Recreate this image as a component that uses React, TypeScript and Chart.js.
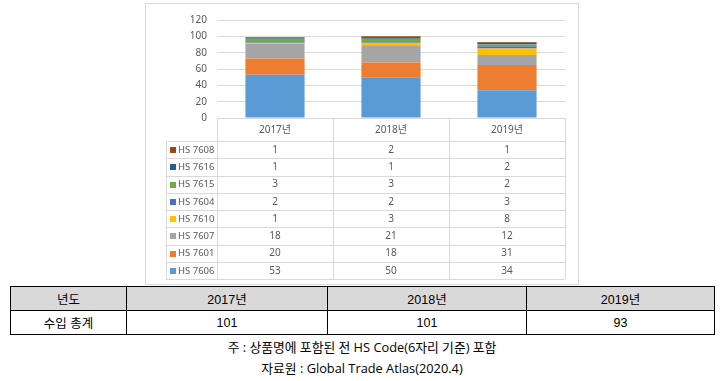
import React, { useEffect, useRef } from "react";
import { Chart, registerables } from "chart.js";

Chart.register(...registerables);

// ---- data ----
const years = ["2017년", "2018년", "2019년"];
const seriesNames = ["HS 7606", "HS 7601", "HS 7607", "HS 7610", "HS 7604", "HS 7615", "HS 7616", "HS 7608"];
const hs7606 = [53, 50, 34];
const hs7601 = [20, 18, 31];
const hs7607 = [18, 21, 12];
const hs7610 = [1, 3, 8];
const hs7604 = [2, 2, 3];
const hs7615 = [3, 3, 2];
const hs7616 = [1, 1, 2];
const hs7608 = [1, 2, 1];
const seriesValues = [hs7606, hs7601, hs7607, hs7610, hs7604, hs7615, hs7616, hs7608];
const seriesColors = ["#5B9BD5", "#ED7D31", "#A5A5A5", "#FFC000", "#4472C4", "#70AD47", "#255E91", "#9E480E"];
const yMin = 0;
const yMax = 120;
const yStep = 20;

const summaryHeader = ["년도", "2017년", "2018년", "2019년"];
const summaryRowLabel = "수입 총계";
const summaryTotals = ["101", "101", "93"];
const noteLine = "주 : 상품명에 포함된 전 HS Code(6자리 기준) 포함";
const sourceLine = "자료원 : Global Trade Atlas(2020.4)";

const chartFont = "'Noto Sans', 'Noto Sans CJK KR', sans-serif";
const textGray = "#595959";
const lineGray = "#d9d9d9";

const dataTablePlugin = {
  id: "dataTable",
  afterDraw(chart: any) {
    const { ctx, chartArea, scales } = chart;
    const xs = scales.x;
    const left = chartArea.left;
    const right = chartArea.right;
    const top = chartArea.bottom;
    const headerH = 23;
    const rowH = 17.25;
    const keyLeft = 20;
    const ds = chart.data.datasets;
    const n = ds.length;
    const labels = chart.data.labels as string[];
    const bottom = top + headerH + n * rowH;
    const centers = labels.map((_: string, i: number) => xs.getPixelForValue(i));
    const bounds = [left];
    for (let i = 0; i < centers.length - 1; i++) bounds.push((centers[i] + centers[i + 1]) / 2);
    bounds.push(right);

    ctx.save();
    ctx.strokeStyle = lineGray;
    ctx.lineWidth = 1;
    ctx.beginPath();
    bounds.forEach((b: number) => {
      const xx = Math.round(b) + 0.5;
      ctx.moveTo(xx, top);
      ctx.lineTo(xx, bottom);
    });
    ctx.moveTo(keyLeft + 0.5, top + headerH);
    ctx.lineTo(keyLeft + 0.5, bottom);
    for (let i = 0; i <= n; i++) {
      const yy = Math.round(top + headerH + i * rowH) + 0.5;
      ctx.moveTo(keyLeft, yy);
      ctx.lineTo(right, yy);
    }
    ctx.stroke();

    ctx.fillStyle = textGray;
    ctx.font = `10px ${chartFont}`;
    ctx.textAlign = "center";
    ctx.textBaseline = "middle";
    labels.forEach((lab: string, i: number) => {
      ctx.fillText(lab, centers[i], top + headerH / 2 + 1);
    });

    for (let r = 0; r < n; r++) {
      const d = ds[n - 1 - r];
      const cy = top + headerH + r * rowH + rowH / 2 + 0.5;
      ctx.fillStyle = d.backgroundColor;
      ctx.fillRect(keyLeft + 4, Math.round(cy) - 3, 6, 6);
      ctx.fillStyle = textGray;
      ctx.textAlign = "left";
      ctx.font = `9.5px ${chartFont}`;
      ctx.fillText(d.label, keyLeft + 12, cy);
      ctx.font = `10px ${chartFont}`;
      ctx.textAlign = "center";
      (d.data as number[]).forEach((v: number, i: number) => {
        ctx.fillText(String(v), centers[i], cy);
      });
    }
    ctx.restore();
  },
};

export default function App() {
  const canvasRef = useRef<HTMLCanvasElement | null>(null);

  useEffect(() => {
    if (!canvasRef.current) return;
    const chart = new Chart(canvasRef.current, {
      type: "bar",
      data: {
        labels: years,
        datasets: seriesNames.map((name, i) => ({
          label: name,
          data: seriesValues[i],
          backgroundColor: seriesColors[i],
          borderWidth: 0,
          barPercentage: 0.51,
          categoryPercentage: 1,
        })),
      },
      options: {
        responsive: false,
        animation: false,
        layout: { padding: { top: 12, right: 13, bottom: 166, left: 0 } },
        plugins: { legend: { display: false }, tooltip: { enabled: false } },
        scales: {
          x: { display: false, stacked: true, offset: true },
          y: {
            stacked: true,
            min: yMin,
            max: yMax,
            ticks: { stepSize: yStep, padding: 10, color: textGray, font: { family: chartFont, size: 10 } },
            grid: { color: lineGray, drawTicks: false },
            border: { display: false },
            afterFit: (s: any) => {
              s.width = 71;
            },
          },
        },
      },
      plugins: [dataTablePlugin],
    } as any);
    return () => chart.destroy();
  }, []);

  const tableFont = "'Liberation Sans', 'Noto Sans CJK KR', sans-serif";
  const cell: React.CSSProperties = {
    border: "1px solid #000",
    textAlign: "center",
    verticalAlign: "middle",
    padding: 0,
    height: 23,
    fontSize: 12.5,
    fontWeight: 400,
    fontFamily: tableFont,
    color: "#000",
  };

  return (
    <div>
      <div
        style={{
          position: "absolute",
          left: 145,
          top: 3,
          width: 434,
          height: 282,
          border: `1px solid ${lineGray}`,
          boxSizing: "border-box",
          background: "#fff",
        }}
      >
        <canvas ref={canvasRef} width={432} height={280} style={{ display: "block" }} />
      </div>
      <table
        style={{
          position: "absolute",
          left: 10,
          top: 286,
          width: 704,
          borderCollapse: "collapse",
          tableLayout: "fixed",
        }}
      >
        <colgroup>
          <col style={{ width: 116 }} />
          <col style={{ width: 201 }} />
          <col style={{ width: 199 }} />
          <col style={{ width: 188 }} />
        </colgroup>
        <tbody>
          <tr>
            {summaryHeader.map((h) => (
              <td key={h} style={{ ...cell, background: "#d9d9d9" }}>
                {h}
              </td>
            ))}
          </tr>
          <tr>
            <td style={cell}>{summaryRowLabel}</td>
            {summaryTotals.map((t, i) => (
              <td key={i} style={cell}>
                {t}
              </td>
            ))}
          </tr>
        </tbody>
      </table>
      <div
        style={{
          position: "absolute",
          left: 0,
          top: 337,
          width: 724,
          textAlign: "center",
          fontFamily: "'Open Sans', 'Noto Sans CJK KR', sans-serif",
          fontSize: 12.8,
          lineHeight: "21px",
          color: "#000",
        }}
      >
        <div>{noteLine}</div>
        <div>{sourceLine}</div>
      </div>
    </div>
  );
}
